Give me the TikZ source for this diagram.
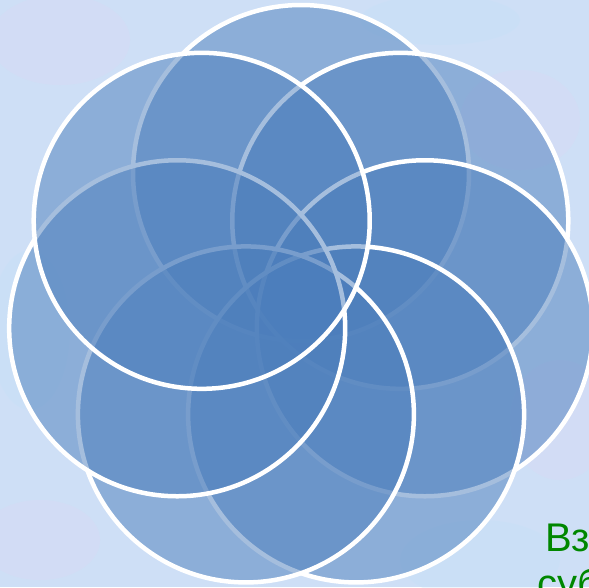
\documentclass[tikz,border=0pt]{standalone}
\usepackage{fontspec}
\setmainfont{Liberation Sans}
\definecolor{bgblue}{RGB}{206,223,246}
\definecolor{bglav}{RGB}{222,214,244}
\definecolor{bgcyan}{RGB}{196,226,246}
\definecolor{petalblue}{RGB}{76,126,188}
\definecolor{txtgreen}{RGB}{0,135,0}
\begin{document}
\begin{tikzpicture}[x=1pt,y=-1pt,
  petal/.style={fill=petalblue, fill opacity=0.5, draw=white, draw opacity=1, line width=4.5pt},
  blob/.style={fill=#1, fill opacity=0.3, draw=none},
  label/.style={anchor=base west, inner sep=0pt, text=txtgreen, font=\fontsize{40}{48}\selectfont}]
\useasboundingbox (0,0) rectangle (589,587);
\begin{scope}
\clip (0,0) rectangle (589,587);
\fill[bgblue] (0,0) rectangle (589,587);
% mottled background
\fill[blob=bglav] (60,40) ellipse[x radius=70pt, y radius=45pt];
\fill[blob=bglav] (520,120) ellipse[x radius=60pt, y radius=50pt];
\fill[blob=bgcyan] (30,330) ellipse[x radius=40pt, y radius=80pt];
\fill[blob=bglav] (560,420) ellipse[x radius=50pt, y radius=60pt];
\fill[blob=bgcyan] (480,560) ellipse[x radius=80pt, y radius=40pt];
\fill[blob=bglav] (40,540) ellipse[x radius=60pt, y radius=40pt];
\fill[blob=bgcyan] (440,20) ellipse[x radius=80pt, y radius=25pt];
% seven petals, drawn clockwise from the top
\foreach \k in {0,...,6}{
  \pgfmathsetmacro{\ang}{90-\k*360/7}
  \draw[petal] ({301+127*cos(\ang)},{300-127*sin(\ang)}) circle[radius=168pt];
}
\node[label] (t1) at (545,551) {Вз};
\node[label] (t2) at (537,597) {суб};
\end{scope}
\end{tikzpicture}
\end{document}
